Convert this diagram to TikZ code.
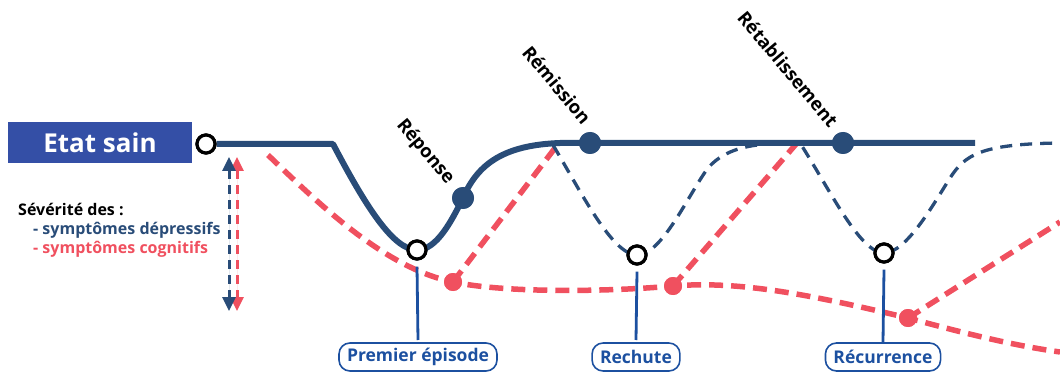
\documentclass[tikz,border=0pt]{standalone}
\usepackage{fontspec}
\setmainfont{Open Sans}
\usetikzlibrary{arrows.meta}
\definecolor{dblue}{HTML}{294C78}
\definecolor{cred}{HTML}{F0505F}
\definecolor{boxblue}{HTML}{344FA6}
\definecolor{lblue}{HTML}{1C50A0}
\tikzset{
  solidline/.style={draw=dblue, line width=6pt, line join=round},
  bluedash/.style={draw=dblue, line width=3.3pt, dash pattern=on 12pt off 8pt},
  reddash/.style={draw=cred, line width=5.5pt, dash pattern=on 14pt off 8pt},
  opendot/.style={circle, draw=black, fill=white, line width=3.2pt, minimum size=18pt, inner sep=0pt},
  bluedot/.style={circle, fill=dblue, minimum size=22pt, inner sep=0pt},
  reddot/.style={circle, fill=cred, minimum size=18pt, inner sep=0pt},
  stagelbl/.style={font=\bfseries\fontsize{18.5}{19}\selectfont, text=black, rotate=-50, inner sep=0pt},
  eventbox/.style={draw=lblue, line width=1.6pt, rounded corners=11pt, text=lblue, font=\bfseries\fontsize{17.5}{18}\selectfont, inner xsep=8pt, minimum height=28pt, inner ysep=0pt},
  tick/.style={draw=lblue, line width=2.8pt},
  legend/.style={font=\bfseries\fontsize{16}{16}\selectfont, anchor=base west, inner sep=0pt}
}
\begin{document}
\begin{tikzpicture}[x=1pt, y=-1pt]
\useasboundingbox (0,0) rectangle (1060,374);
\begin{scope}
\clip (0,0) rectangle (1060,374);
% Etat sain box
\node[fill=boxblue, minimum width=184pt, minimum height=41pt, inner sep=0pt, text=white, font=\bfseries\fontsize{26}{26}\selectfont] (etat) at (100,142.5) {Etat sain};
% key points
\node[opendot] (start) at (206,144) {};
\coordinate (flatend) at (333,144);
\coordinate (rise) at (560,143);
\coordinate (solidend) at (975,143);
% red curves first (behind)
\coordinate (r0) at (268,155);
\coordinate (rend) at (1060,352);
\coordinate (rup1) at (555,148);
\coordinate (rup2) at (797,143);
\coordinate (rup3) at (1060,222);
\node[reddot] (rd1) at (453,282) {};
\node[reddot] (rd2) at (673,286) {};
\node[reddot] (rd3) at (908,318) {};
\draw[reddash] (r0) .. controls (320,205) and (385,268) .. (rd1.center)
  .. controls (505,293) and (605,292) .. (rd2.center)
  .. controls (735,281) and (800,292) .. (rd3.center)
  .. controls (960,332) and (1010,345) .. (rend);
\draw[reddash] (rd1.center) -- (rup1);
\draw[reddash] (rd2.center) -- (rup2);
\draw[reddash] (rd3.center) -- (rup3);
% blue dashed relapse curves
\coordinate (b0) at (553,145);
\coordinate (bmid) at (800,143);
\coordinate (bend) at (1060,143);
\node[opendot] (rech) at (637,255) {};
\node[opendot] (recu) at (884,253) {};
\draw[bluedash] (b0) .. controls (580,190) and (612,255) .. (rech.center)
  .. controls (662,255) and (688,195) .. (708,168)
  .. controls (728,145) and (760,143) .. (bmid)
  .. controls (830,190) and (860,253) .. (recu.center)
  .. controls (906,253) and (933,205) .. (950,178)
  .. controls (965,155) and (980,144) .. (bend);
% solid main line
\node[opendot] (ep) at (417,250) {};
\node[bluedot] (rep) at (463,198) {};
\node[bluedot] (rem) at (590,143) {};
\node[bluedot] (ret) at (843,143) {};
\draw[solidline] (start.east) -- (flatend)
  .. controls (365,205) and (393,250) .. (ep.center)
  .. controls (437,250) and (452,220) .. (rep.center)
  .. controls (478,163) and (505,145) .. (rise) -- (solidend);
% redraw dots on top
\node[opendot] at (start) {};
\node[opendot] at (ep) {};
\node[opendot] at (rech) {};
\node[opendot] at (recu) {};
\node[bluedot] at (rep) {};
\node[bluedot] at (rem) {};
\node[bluedot] at (ret) {};
\node[reddot] at (rd1) {};
\node[reddot] at (rd2) {};
\node[reddot] at (rd3) {};
% stage labels
\node[stagelbl] (lrep) at (425,152) {Réponse};
\node[stagelbl] (lrem) at (557,85) {Rémission};
\node[stagelbl] (lret) at (788,69) {Rétablissement};
% event labels
\node[eventbox] (bep) at (418,357) {Premier épisode};
\node[eventbox] (brech) at (636,357) {Rechute};
\node[eventbox] (brecu) at (883,357) {Récurrence};
\draw[tick] (ep.south) ++(0,6) -- (bep.north |- 0,340);
\draw[tick] (rech.south) ++(0,6) -- (brech.north |- 0,340);
\draw[tick] (recu.south) ++(0,6) -- (brecu.north |- 0,342);
% severity arrows
\coordinate (ra) at (237,157);
\coordinate (rb) at (237,311);
\coordinate (ba) at (229,157);
\coordinate (bb) at (229,311);
\draw[draw=cred, line width=3pt, dash pattern=on 9pt off 6pt, {Triangle[width=13pt,length=14pt]}-{Triangle[width=13pt,length=14pt]}, fill=cred] (ra) -- (rb);
\draw[draw=dblue, line width=3pt, dash pattern=on 9pt off 6pt, {Triangle[width=13pt,length=14pt]}-{Triangle[width=13pt,length=14pt]}, fill=dblue] (ba) -- (bb);
% legend
\node[legend] (sev) at (18,215) {Sévérité des :};
\node[legend, text=dblue] (sd) at (33,234) {- symptômes dépressifs};
\node[legend, text=cred] (sc) at (33,253) {- symptômes cognitifs};
\end{scope}
\end{tikzpicture}
\end{document}
